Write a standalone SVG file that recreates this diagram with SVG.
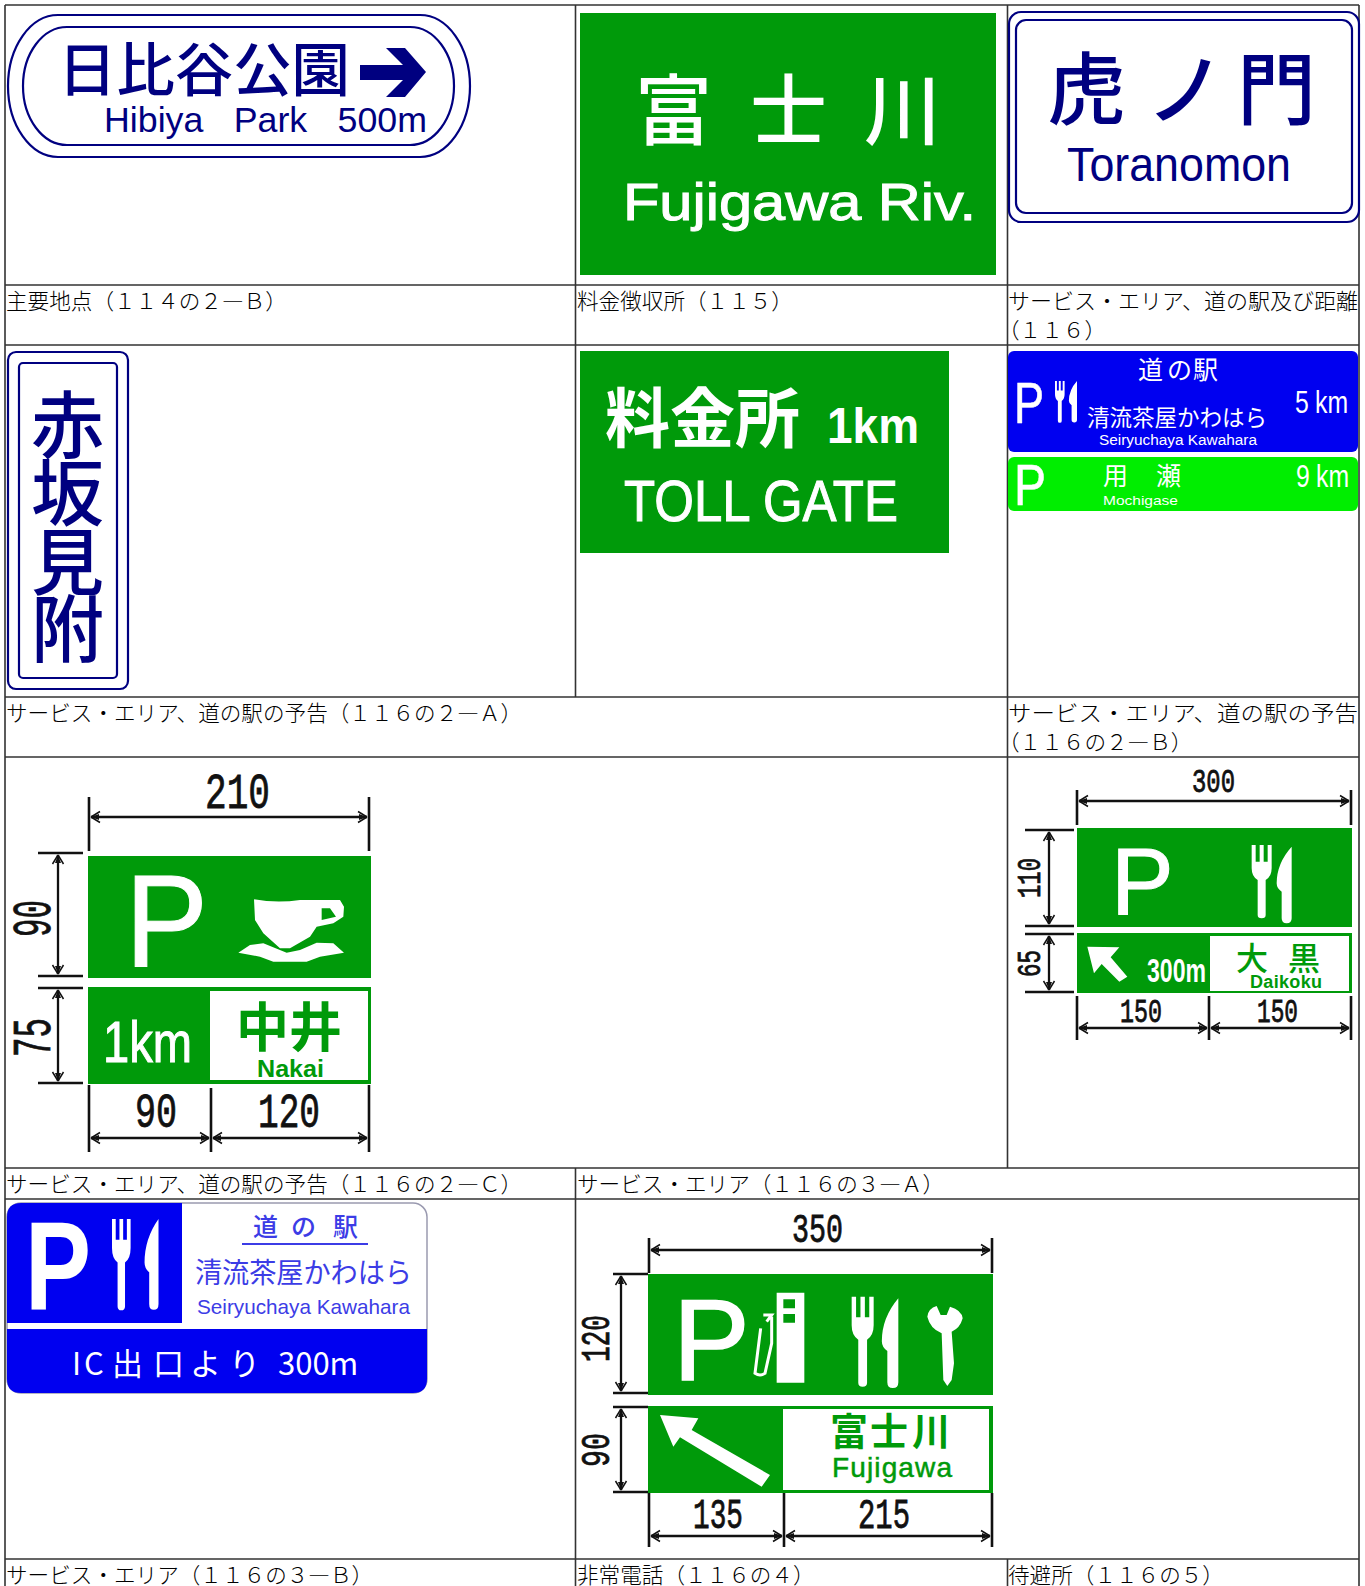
<svg xmlns="http://www.w3.org/2000/svg" width="1365" height="1586" viewBox="0 0 1365 1586">
<style>
.cap{font-family:"Noto Sans CJK JP",sans-serif;font-size:21.6px;font-weight:300;fill:#000}
.cjk{font-family:"Noto Sans CJK JP",sans-serif}
.b{font-weight:700}
.m{font-weight:500}
.lat{font-family:"Liberation Sans",Arial,sans-serif}
.num{font-family:"Liberation Mono",monospace;fill:#111;stroke:#111;stroke-width:.8}
.w{fill:#fff}
.n{fill:#000080}
.g{fill:#009a0a}
.bl{fill:#3c3ce6}
.sw{stroke:#fff;stroke-width:1}
.nb{fill:none;stroke:#000080;stroke-width:2.2}
.grid{stroke:#333;stroke-width:1.6;fill:none}
.arr{stroke:#111;stroke-width:2.3;fill:none;marker-start:url(#ah);marker-end:url(#ah)}
.ext{stroke:#111;stroke-width:2.6;fill:none}
</style>
<defs>
<marker id="ah" viewBox="-14 -8 16 16" markerWidth="16" markerHeight="16" refX="0" refY="0" orient="auto-start-reverse" markerUnits="userSpaceOnUse"><path d="M0 0L-8 -3V3Z" fill="#111"/><path d="M0 0L-9 -5.5M0 0L-9 5.5" stroke="#111" stroke-width="1.5" fill="none"/></marker>
<path id="fork" d="M0 0H12V50H24V0H36V50H48V0H60V70Q60 95 42 105V210Q42 220 30 220Q18 220 18 210V105Q0 95 0 70Z" fill="#fff"/>
<path id="knife" d="M50 0Q5 50 5 110Q5 125 20 135V215Q20 230 35 230Q50 230 50 215Z" fill="#fff"/>
</defs>
<rect width="1365" height="1586" fill="#fff"/>
<g id="table" class="grid">
<path d="M5 5H1359M5 285H1359M5 345H1359M5 697H1359M5 757H1359M5 1168H1359M5 1199H1359M5 1559H1359"/>
<path d="M5 5V1586M1359 5V1586M575.5 5V697M1007.5 5V1168M575.5 1168V1586M1007.5 1559V1586"/>
</g>
<g id="captions">
<text class="cap" x="6" y="309">主要地点（１１４の２―Ｂ）</text>
<text class="cap" x="577" y="309">料金徴収所（１１５）</text>
<text class="cap" x="1008" y="309" textLength="350" lengthAdjust="spacingAndGlyphs">サービス・エリア、道の駅及び距離</text>
<text class="cap" x="998" y="338">（１１６）</text>
<text class="cap" x="6" y="721">サービス・エリア、道の駅の予告（１１６の２―Ａ）</text>
<text class="cap" x="1008" y="721" textLength="350" lengthAdjust="spacingAndGlyphs">サービス・エリア、道の駅の予告</text>
<text class="cap" x="998" y="750">（１１６の２―Ｂ）</text>
<text class="cap" x="6" y="1192">サービス・エリア、道の駅の予告（１１６の２―Ｃ）</text>
<text class="cap" x="577" y="1192">サービス・エリア（１１６の３―Ａ）</text>
<text class="cap" x="6" y="1583">サービス・エリア（１１６の３―Ｂ）</text>
<text class="cap" x="577" y="1583">非常電話（１１６の４）</text>
<text class="cap" x="1008" y="1583">待避所（１１６の５）</text>
</g>
<g id="sign-hibiya">
<rect class="nb" x="8" y="15" width="462" height="142" rx="50" ry="71"/>
<rect class="nb" x="23" y="27" width="431" height="118" rx="44" ry="59"/>
<text class="cjk m n" x="58" y="91" font-size="58" textLength="292" lengthAdjust="spacingAndGlyphs">日比谷公園</text>
<path class="n" d="M386 48H405L426 72L405 97H386L403 80H360V65H403Z"/>
<text class="lat n" x="104" y="132" font-size="35" textLength="323" lengthAdjust="spacingAndGlyphs" word-spacing="20">Hibiya Park 500m</text>
</g>
<g id="sign-fujigawa">
<rect class="g" x="580" y="13" width="416" height="262"/>
<text class="cjk m w" x="635 750 864" y="139" font-size="77">富士川</text>
<text class="lat w sw" x="623" y="220" font-size="52" textLength="353" lengthAdjust="spacingAndGlyphs">Fujigawa Riv.</text>
</g>
<g id="sign-toranomon">
<rect class="nb" x="1009" y="12" width="350" height="210" rx="12"/>
<rect class="nb" x="1016" y="20" width="336" height="193" rx="10"/>
<text class="cjk m n" x="1047 1146 1237" y="119" font-size="79">虎ノ門</text>
<text class="lat n" x="1067" y="181" font-size="48" textLength="224" lengthAdjust="spacingAndGlyphs">Toranomon</text>
</g>
<g id="sign-akasaka">
<rect class="nb" x="8" y="352" width="120" height="337" rx="8"/>
<rect class="nb" x="19" y="363" width="98" height="315" rx="4"/>
<text class="cjk m n" x="31 31 31 31" y="452 520 589 656" font-size="73">赤坂見附</text>
</g>
<g id="sign-tollgate">
<rect class="g" x="580" y="351" width="369" height="202"/>
<text class="cjk b w" x="605" y="442" font-size="65">料金所</text>
<text class="lat b w" x="827" y="443" font-size="50" textLength="92" lengthAdjust="spacingAndGlyphs">1km</text>
<text class="lat w sw" x="624" y="521" font-size="58" textLength="274" lengthAdjust="spacingAndGlyphs">TOLL GATE</text>
</g>
<g id="sign-michinoeki-a">
<rect x="1008" y="351" width="350" height="101" rx="6" fill="#0000f0"/>
<text class="cjk w" x="1138 1167 1193" y="379" font-size="25">道の駅</text>
<text class="lat w" x="1014" y="423" font-size="57" textLength="30" lengthAdjust="spacingAndGlyphs" stroke="#fff" stroke-width=".6">P</text>
<use href="#fork" transform="translate(1055 381) scale(.16 .19)"/>
<use href="#knife" transform="translate(1068 381) scale(.18 .18)"/>
<text class="cjk w" x="1087" y="426" font-size="22.5" textLength="180" lengthAdjust="spacingAndGlyphs">清流茶屋かわはら</text>
<text class="lat w" x="1099" y="445" font-size="15.5" textLength="158" lengthAdjust="spacingAndGlyphs">Seiryuchaya Kawahara</text>
<text class="lat w" transform="translate(1295 413) scale(.8 1)" x="0 25" font-size="31">5km</text>
</g>
<g id="sign-mochigase">
<rect x="1008" y="457" width="350" height="54" rx="6" fill="#00ee00"/>
<text class="lat w" x="1014" y="505" font-size="57" textLength="32" lengthAdjust="spacingAndGlyphs" stroke="#fff" stroke-width=".6">P</text>
<text class="cjk w" x="1103 1156" y="485" font-size="25">用瀬</text>
<text class="lat w" x="1103" y="505" font-size="13.5" textLength="75" lengthAdjust="spacingAndGlyphs">Mochigase</text>
<text class="lat w" transform="translate(1296 487) scale(.8 1)" x="0 25" font-size="31">9km</text>
</g>
<g id="sign-nakai">
<rect class="g" x="88" y="856" width="283" height="122"/>
<rect class="g" x="88" y="987" width="283" height="97"/>
<rect x="210" y="991" width="158" height="89" fill="#fff"/>
<text class="lat w sw" x="125" y="966" font-size="131" textLength="83" lengthAdjust="spacingAndGlyphs">P</text>
<g transform="translate(0 760) scale(.33333)">
<path fill="#fff" fill-rule="evenodd" d="M762 418Q830 430 900 420L1020 420L1032 440L1030 470L1000 490L950 500L930 530L870 565L840 565L790 520L765 480ZM965 445V480L1008 470L990 445Z"/>
<path fill="#fff" d="M715 578L750 555L790 550L860 578L900 570L950 548L1000 550L1032 578L960 590L920 605L820 605L780 590Z"/>
</g>
<text class="lat w sw" x="103" y="1062" font-size="58" textLength="89" lengthAdjust="spacingAndGlyphs">1km</text>
<text class="cjk b g" x="236 289" y="1047" font-size="53">中井</text>
<text class="lat b g" x="257" y="1077" font-size="23" textLength="67" lengthAdjust="spacingAndGlyphs">Nakai</text>
</g>
<g id="sign-daikoku">
<rect class="g" x="1077" y="828" width="275" height="99"/>
<rect class="g" x="1077" y="933" width="275" height="60"/>
<rect x="1210" y="936" width="139" height="55" fill="#fff"/>
<text class="lat w sw" x="1111" y="914" font-size="94">P</text>
<g transform="translate(1000 760) scale(.33333)">
<use href="#fork" transform="translate(755 255)"/>
<use href="#knife" transform="translate(825 260)"/>
<path fill="#fff" d="M262 560L358 562L332 592L382 650L358 665L305 612L282 640Z"/>
</g>
<text class="lat b w" x="1147" y="982" font-size="33" textLength="59" lengthAdjust="spacingAndGlyphs">300m</text>
<text class="cjk m g" x="1236 1288" y="970" font-size="32">大黒</text>
<text class="lat b g" x="1250" y="988" font-size="18" textLength="72" lengthAdjust="spacing">Daikoku</text>
</g>
<g id="sign-seiryuchaya">
<rect x="7" y="1203" width="420" height="190" rx="14" fill="#fff" stroke="#9a9ab0" stroke-width="1.5"/>
<path d="M182 1203H21Q7 1203 7 1217V1323H182Z" fill="#0000f0"/>
<path d="M7 1329H427V1379Q427 1393 413 1393H21Q7 1393 7 1379Z" fill="#0000f0"/>
<text class="lat b w" x="25" y="1310" font-size="126" textLength="66" lengthAdjust="spacingAndGlyphs">P</text>
<use href="#fork" transform="translate(112 1219) scale(.31 .415)"/>
<use href="#knife" transform="translate(143 1219) scale(.31 .395)"/>
<text class="cjk m bl" x="253 291 333" y="1236" font-size="25">道の駅</text>
<path d="M242 1244H368" stroke="#3c3ce6" stroke-width="2"/>
<text class="cjk bl" x="195" y="1283" font-size="28" textLength="217" lengthAdjust="spacingAndGlyphs">清流茶屋かわはら</text>
<text class="lat bl" x="197" y="1314" font-size="21" textLength="213" lengthAdjust="spacingAndGlyphs">Seiryuchaya Kawahara</text>
<text class="cjk w" x="72 84 112 153 190 229 260 278" y="1375" font-size="31">IC出口より 300m</text>
</g>
<g id="sign-fujigawa-sa">
<rect class="g" x="648" y="1274" width="345" height="121"/>
<rect class="g" x="648" y="1406" width="345" height="87"/>
<rect x="783" y="1409" width="206" height="81" fill="#fff"/>
<text class="lat w" x="673" y="1380" font-size="115" stroke="#fff" stroke-width="1.5">P</text>
<g transform="translate(570 1200) scale(.33333)">
<path fill="#fff" fill-rule="evenodd" d="M620 278H703V548H620ZM640 298V325H675V298ZM640 342V368H675V342Z"/>
<path d="M580 345H605L590 365M572 385L555 520Q570 530 585 520L605 430V350" stroke="#fff" stroke-width="9" fill="none"/>
<use href="#fork" transform="translate(845 290) scale(1.1 1.23)"/>
<use href="#knife" transform="translate(930 295) scale(1.1 1.17)"/>
<path fill="#fff" d="M1072 350Q1075 325 1100 318L1112 345L1130 345L1140 320Q1175 330 1178 355Q1170 385 1145 395L1152 490L1145 540L1132 558L1120 540L1115 400Q1080 385 1072 350Z"/>
<path fill="#fff" d="M270 645L385 655L365 690L600 825L575 860L330 712L310 740Z"/>
</g>
<text class="cjk b g" x="830 870 912" y="1445" font-size="38">富士川</text>
<text class="lat g" x="832" y="1477" font-size="28" textLength="120" lengthAdjust="spacing" stroke="#009a0a" stroke-width=".5">Fujigawa</text>
</g>
<g id="connectors">
<path class="ext" d="M89 797V851M369 797V851M38 853H83M38 976H83M38 988H83M38 1083H83M89 1085V1152M211 1088V1152M369 1085V1152"/>
<path class="arr" d="M91 817H367"/><path class="arr" d="M58 855V974"/><path class="arr" d="M58 990V1081"/><path class="arr" d="M91 1138H209"/><path class="arr" d="M213 1138H367"/>
<path class="ext" d="M1077 790V825M1351 790V825M1025 830H1074M1025 926H1074M1025 934H1074M1025 992H1074M1077 996V1040M1209 996V1040M1351 996V1040"/>
<path class="arr" d="M1079 801H1349"/><path class="arr" d="M1049 832V924"/><path class="arr" d="M1049 936V990"/><path class="arr" d="M1079 1028H1207"/><path class="arr" d="M1211 1028H1349"/>
<path class="ext" d="M649 1238V1273M992 1238V1273M613 1274H648M613 1393H648M613 1407H648M613 1492H648M649 1493V1547M784 1493V1547M992 1493V1547"/>
<path class="arr" d="M651 1250H990"/><path class="arr" d="M621 1276V1391"/><path class="arr" d="M621 1409V1490"/><path class="arr" d="M651 1536H782"/><path class="arr" d="M786 1536H990"/>
</g>
<g id="dimension-labels">
<text class="num" x="205" y="808" font-size="50" textLength="65" lengthAdjust="spacingAndGlyphs">210</text>
<text class="num" transform="translate(50 937) rotate(-90)" font-size="54" textLength="37" lengthAdjust="spacingAndGlyphs">90</text>
<text class="num" transform="translate(50 1057) rotate(-90)" font-size="54" textLength="39" lengthAdjust="spacingAndGlyphs">75</text>
<text class="num" x="135" y="1127" font-size="48" textLength="42" lengthAdjust="spacingAndGlyphs">90</text>
<text class="num" x="258" y="1127" font-size="48" textLength="62" lengthAdjust="spacingAndGlyphs">120</text>
<text class="num" x="1192" y="792" font-size="33" textLength="43" lengthAdjust="spacingAndGlyphs">300</text>
<text class="num" transform="translate(1040 898) rotate(-90)" font-size="33" textLength="40" lengthAdjust="spacingAndGlyphs">110</text>
<text class="num" transform="translate(1040 977) rotate(-90)" font-size="33" textLength="27" lengthAdjust="spacingAndGlyphs">65</text>
<text class="num" x="1120" y="1022" font-size="33" textLength="42" lengthAdjust="spacingAndGlyphs">150</text>
<text class="num" x="1257" y="1022" font-size="33" textLength="41" lengthAdjust="spacingAndGlyphs">150</text>
<text class="num" x="792" y="1242" font-size="40" textLength="51" lengthAdjust="spacingAndGlyphs">350</text>
<text class="num" transform="translate(609 1362) rotate(-90)" font-size="40" textLength="47" lengthAdjust="spacingAndGlyphs">120</text>
<text class="num" transform="translate(609 1467) rotate(-90)" font-size="40" textLength="34" lengthAdjust="spacingAndGlyphs">90</text>
<text class="num" x="693" y="1528" font-size="42" textLength="50" lengthAdjust="spacingAndGlyphs">135</text>
<text class="num" x="858" y="1528" font-size="42" textLength="52" lengthAdjust="spacingAndGlyphs">215</text>
</g>
</svg>
